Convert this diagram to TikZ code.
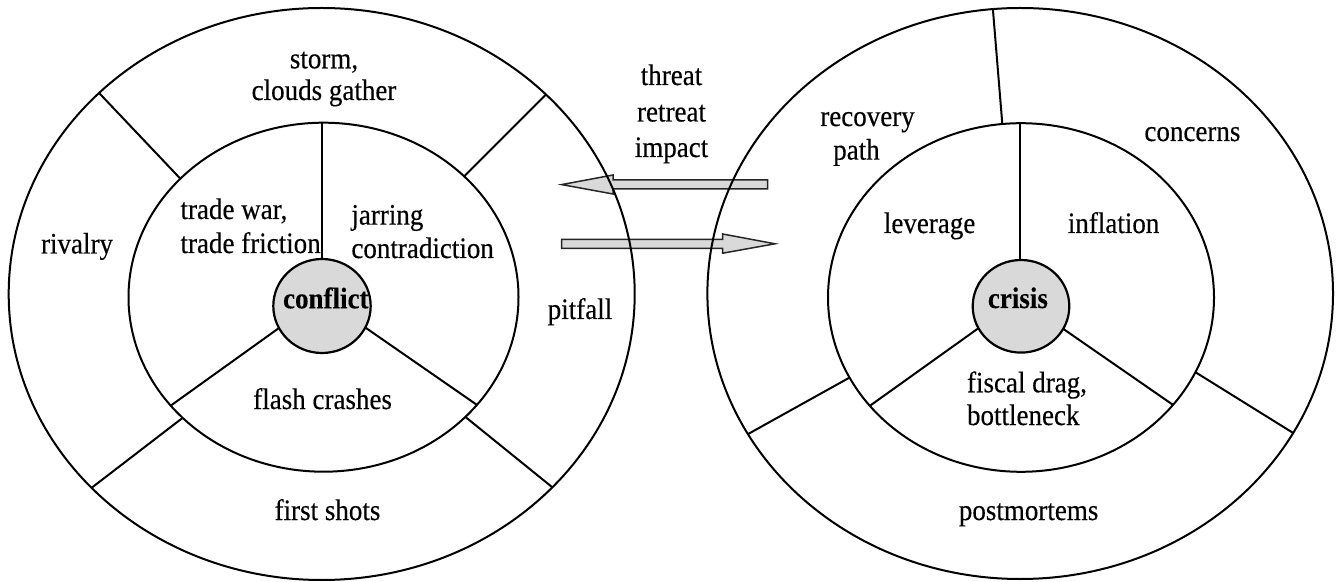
\documentclass[tikz,border=0pt]{standalone}
\usepackage{fontspec}
\setmainfont{Liberation Serif}
\newfontfamily\lblfont{Liberation Serif}[FakeBold=0.35]
\newfontfamily\corefont{Liberation Serif}[FakeBold=0.2]
\usetikzlibrary{calc}
\definecolor{coregray}{RGB}{217,217,217}
\definecolor{arrowgray}{RGB}{217,217,217}
\newcommand\vstretch[1]{\scalebox{1}[1.1]{#1}}
\begin{document}
\begin{tikzpicture}[x=0.5pt,y=-0.5pt, line width=1pt,
  lbl/.style={font=\fontsize{13.5}{16}\lblfont, inner sep=0pt, anchor=base},
  lbll/.style={lbl, anchor=base west},
  corelbl/.style={lbl, font=\fontsize{13.5}{16}\corefont\bfseries},
  core/.style={fill=coregray, draw=black, line width=1.1pt},
  ring/.style={draw=black, line width=1pt},
  blockarrow/.style={fill=arrowgray, draw=black!85, line width=0.75pt, line join=miter}]
\useasboundingbox (0,0) rectangle (1343,582);

% ---------- block arrows (under the circles) ----------
\coordinate (a1s) at (767.7,184.5);
\coordinate (a1t) at (561.7,184.6);
\coordinate (a2s) at (561.7,243.8);
\coordinate (a2t) at (775,243.8);
\draw[blockarrow] ($(a1s)+(0,-4.5)$) -- (613,180) -- (613,175) -- (a1t) -- (613,194) -- (613,189) -- ($(a1s)+(0,4.5)$) -- cycle;
\draw[blockarrow] ($(a2s)+(0,-4.5)$) -- (722.7,239.3) -- (722.7,234) -- (a2t) -- (722.7,253.2) -- (722.7,248.3) -- ($(a2s)+(0,4.5)$) -- cycle;

% ================= LEFT WHEEL =================
\def\LOut{(321.7,294) ellipse [x radius=313, y radius=286]}
\def\LIn{(323.5,297.2) ellipse [x radius=195, y radius=174.5]}
\coordinate (Lul1) at (101,95);    \coordinate (Lul2) at (181.6,180);
\coordinate (Lur1) at (545,95.5);  \coordinate (Lur2) at (466,174.5);
\coordinate (Lll1) at (92,487.5);  \coordinate (Lll2) at (183,417.6);
\coordinate (Llr1) at (552.6,487.5); \coordinate (Llr2) at (466.7,418);
\coordinate (Lsl1) at (279,328);   \coordinate (Lsl2) at (173,404);
\coordinate (Lsr1) at (366,328);   \coordinate (Lsr2) at (476.5,404.6);
\coordinate (Lcore) at (322,306);
\begin{scope}
  \clip \LOut;
  \foreach \p in {Lul,Lur,Lll,Llr}{
    \draw[ring] ($(\p2)!1.15!(\p1)$) -- ($(\p1)!1.15!(\p2)$);
  }
\end{scope}
\fill[white] \LIn;
\begin{scope}
  \clip \LIn;
  \foreach \p in {Lsl,Lsr}{
    \draw[ring] ($(\p1)!-0.2!(\p2)$) -- ($(\p1)!1.2!(\p2)$);
  }
  \draw[ring] (Lcore) -- (322,100);
\end{scope}
\draw[ring] \LIn;
\draw[ring] \LOut;
\draw[core] (Lcore) ellipse [x radius=48.7, y radius=47];

% ================= RIGHT WHEEL =================
\def\ROut{(1020.2,293.5) ellipse [x radius=312.8, y radius=285.5]}
\def\RIn{(1021,297.5) ellipse [x radius=193, y radius=174.3]}
\coordinate (Rt1) at (992.9,9.3);   \coordinate (Rt2) at (1002.2,122.7);
\coordinate (Rll1) at (749,433.5);  \coordinate (Rll2) at (847,379);
\coordinate (Rlr1) at (1294,433.5); \coordinate (Rlr2) at (1196.7,373);
\coordinate (Rsl1) at (978,328.5);  \coordinate (Rsl2) at (871,405);
\coordinate (Rsr1) at (1062.7,328.5); \coordinate (Rsr2) at (1172.6,404.6);
\coordinate (Rcore) at (1021,306.3);
\begin{scope}
  \clip \ROut;
  \foreach \p in {Rt,Rll,Rlr}{
    \draw[ring] ($(\p2)!1.15!(\p1)$) -- ($(\p1)!1.15!(\p2)$);
  }
\end{scope}
\fill[white] \RIn;
\begin{scope}
  \clip \RIn;
  \foreach \p in {Rsl,Rsr}{
    \draw[ring] ($(\p1)!-0.2!(\p2)$) -- ($(\p1)!1.2!(\p2)$);
  }
  \draw[ring] (1020,306) -- (1020,100);
\end{scope}
\draw[ring] \RIn;
\draw[ring] \ROut;
\draw[core] (Rcore) ellipse [x radius=48.3, y radius=46.3];

% ================= LABELS =================
\node[lbl] (storm) at (324,68.3) {\vstretch{storm,}};
\node[lbl] (clouds) at (324,100) {\vstretch{clouds gather}};
\node[lbll] (tw) at (179.5,219) {\vstretch{trade war,}};
\node[lbll] (tf) at (179.5,253) {\vstretch{trade friction}};
\node[lbll] (jar) at (350.4,224.6) {\vstretch{jarring}};
\node[lbll] (contra) at (350.4,258) {\vstretch{contradiction}};
\node[lbl] (rivalry) at (77,253.5) {\vstretch{rivalry}};
\node[lbl] (pitfall) at (580,319) {\vstretch{pitfall}};
\node[corelbl] (conflict) at (325.8,308.3) {\vstretch{conflict}};
\node[lbl] (flash) at (322.6,409) {\vstretch{flash crashes}};
\node[lbl] (first) at (327.5,520) {\vstretch{first shots}};

\node[lbl] (threat) at (671.5,85) {\vstretch{threat}};
\node[lbl] (retreat) at (671.5,121.5) {\vstretch{retreat}};
\node[lbl] (impact) at (671.5,157) {\vstretch{impact}};

\node[lbl] (recovery) at (867.5,126) {\vstretch{recovery}};
\node[lbl] (path) at (856.5,159.6) {\vstretch{path}};
\node[lbl] (concerns) at (1192.4,141) {\vstretch{concerns}};
\node[lbl] (leverage) at (929.6,233) {\vstretch{leverage}};
\node[lbl] (inflation) at (1113.6,233) {\vstretch{inflation}};
\node[corelbl] (crisis) at (1017.9,308) {\vstretch{crisis}};
\node[lbll] (fiscal) at (966,392.3) {\vstretch{fiscal drag,}};
\node[lbll] (bottle) at (966,425) {\vstretch{bottleneck}};
\node[lbl] (post) at (1028.6,520) {\vstretch{postmortems}};
\end{tikzpicture}
\end{document}
